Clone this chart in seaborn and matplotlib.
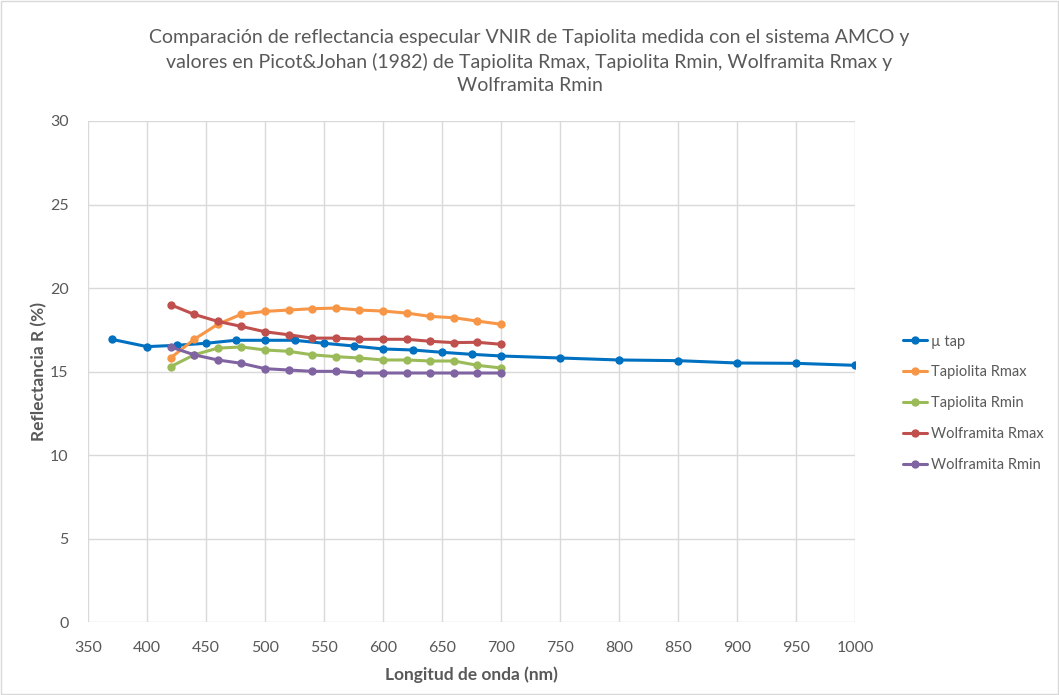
import matplotlib.pyplot as plt
import pandas as pd
import seaborn as sns

# mu tap (sistema AMCO)
tap_nm = [370, 400, 425, 450, 475, 500, 525, 550, 575, 600, 625, 650, 675, 700,
          750, 800, 850, 900, 950, 1000]
tap_r = [16.93, 16.49, 16.57, 16.69, 16.87, 16.87, 16.87, 16.69, 16.53, 16.35,
         16.29, 16.15, 16.03, 15.93, 15.81, 15.69, 15.65, 15.51, 15.49, 15.37]

# Picot & Johan (1982)
pj_nm = [420, 440, 460, 480, 500, 520, 540, 560, 580, 600, 620, 640, 660, 680, 700]
tapiolita_rmax = [15.81, 16.93, 17.83, 18.43, 18.6, 18.68, 18.76, 18.8, 18.68,
                  18.62, 18.5, 18.3, 18.22, 18.02, 17.83]
tapiolita_rmin = [15.29, 16.0, 16.4, 16.47, 16.29, 16.21, 16.0, 15.89, 15.81,
                  15.69, 15.69, 15.63, 15.63, 15.37, 15.21]
wolframita_rmax = [19.0, 18.42, 18.0, 17.7, 17.38, 17.2, 17.0, 17.0, 16.93,
                   16.93, 16.93, 16.81, 16.73, 16.75, 16.63]
wolframita_rmin = [16.47, 16.0, 15.69, 15.49, 15.17, 15.09, 15.01, 15.01, 14.91,
                   14.91, 14.91, 14.91, 14.91, 14.91, 14.91]

series = ["µ tap", "Tapiolita Rmax", "Tapiolita Rmin", "Wolframita Rmax", "Wolframita Rmin"]
colors = ["#0070C0", "#F79646", "#9BBB59", "#C0504D", "#8064A2"]

frames = [pd.DataFrame({"nm": tap_nm, "R": tap_r, "serie": series[0]})]
for name, vals in zip(series[1:], [tapiolita_rmax, tapiolita_rmin,
                                   wolframita_rmax, wolframita_rmin]):
    frames.append(pd.DataFrame({"nm": pj_nm, "R": vals, "serie": name}))
df = pd.concat(frames, ignore_index=True)

sns.set_theme(style="white")
plt.rcParams["font.family"] = ["Lato", "DejaVu Sans"]

fig = plt.figure(figsize=(10.59, 6.95), dpi=100)
ax = fig.add_axes([0.0831, 0.105, 0.7243, 0.7209])

sns.lineplot(data=df, x="nm", y="R", hue="serie", hue_order=series,
             palette=dict(zip(series, colors)), marker="o", markersize=6,
             markeredgewidth=0, linewidth=2.2, sort=False, ax=ax, legend=False)

ax.set_xlim(350, 1000)
ax.set_ylim(0, 30)
ax.set_xticks(range(350, 1001, 50))
ax.set_yticks(range(0, 31, 5))
ax.grid(True, color="#d9d9d9", linewidth=1)
for s in ax.spines.values():
    s.set_visible(False)
ax.tick_params(colors="#595959", labelsize=11.5, length=0)
ax.tick_params(axis="x", pad=14)
ax.tick_params(axis="y", pad=14)

ax.set_xlabel("Longitud de onda (nm)", fontsize=12.5, fontweight="bold",
              color="#595959", labelpad=8)
ax.set_ylabel("Reflectancia R (%)", fontsize=12.5, fontweight="bold",
              color="#595959", labelpad=2)

fig.suptitle("Comparación de reflectancia especular VNIR de Tapiolita medida con el sistema AMCO y\n"
             "valores en Picot&Johan (1982) de Tapiolita Rmax, Tapiolita Rmin, Wolframita Rmax y\n"
             "Wolframita Rmin",
             x=0.5, y=0.958, fontsize=14, color="#595959", linespacing=1.45)

handles = [plt.Line2D([], [], color=c, marker="o", markersize=6, linewidth=2.2,
                      markeredgewidth=0) for c in colors]
fig.legend(handles, series, loc="center left", bbox_to_anchor=(0.853, 0.42),
           frameon=False, fontsize=10.5, labelcolor="#595959", borderpad=0,
           borderaxespad=0, handlelength=1.6, labelspacing=1.15, handletextpad=0.3)

fig.patches.append(plt.Rectangle((0.001, 0.001), 0.998, 0.998, transform=fig.transFigure,
                                 fill=False, edgecolor="#d9d9d9", linewidth=1))

fig.savefig("out.png", dpi=100)
